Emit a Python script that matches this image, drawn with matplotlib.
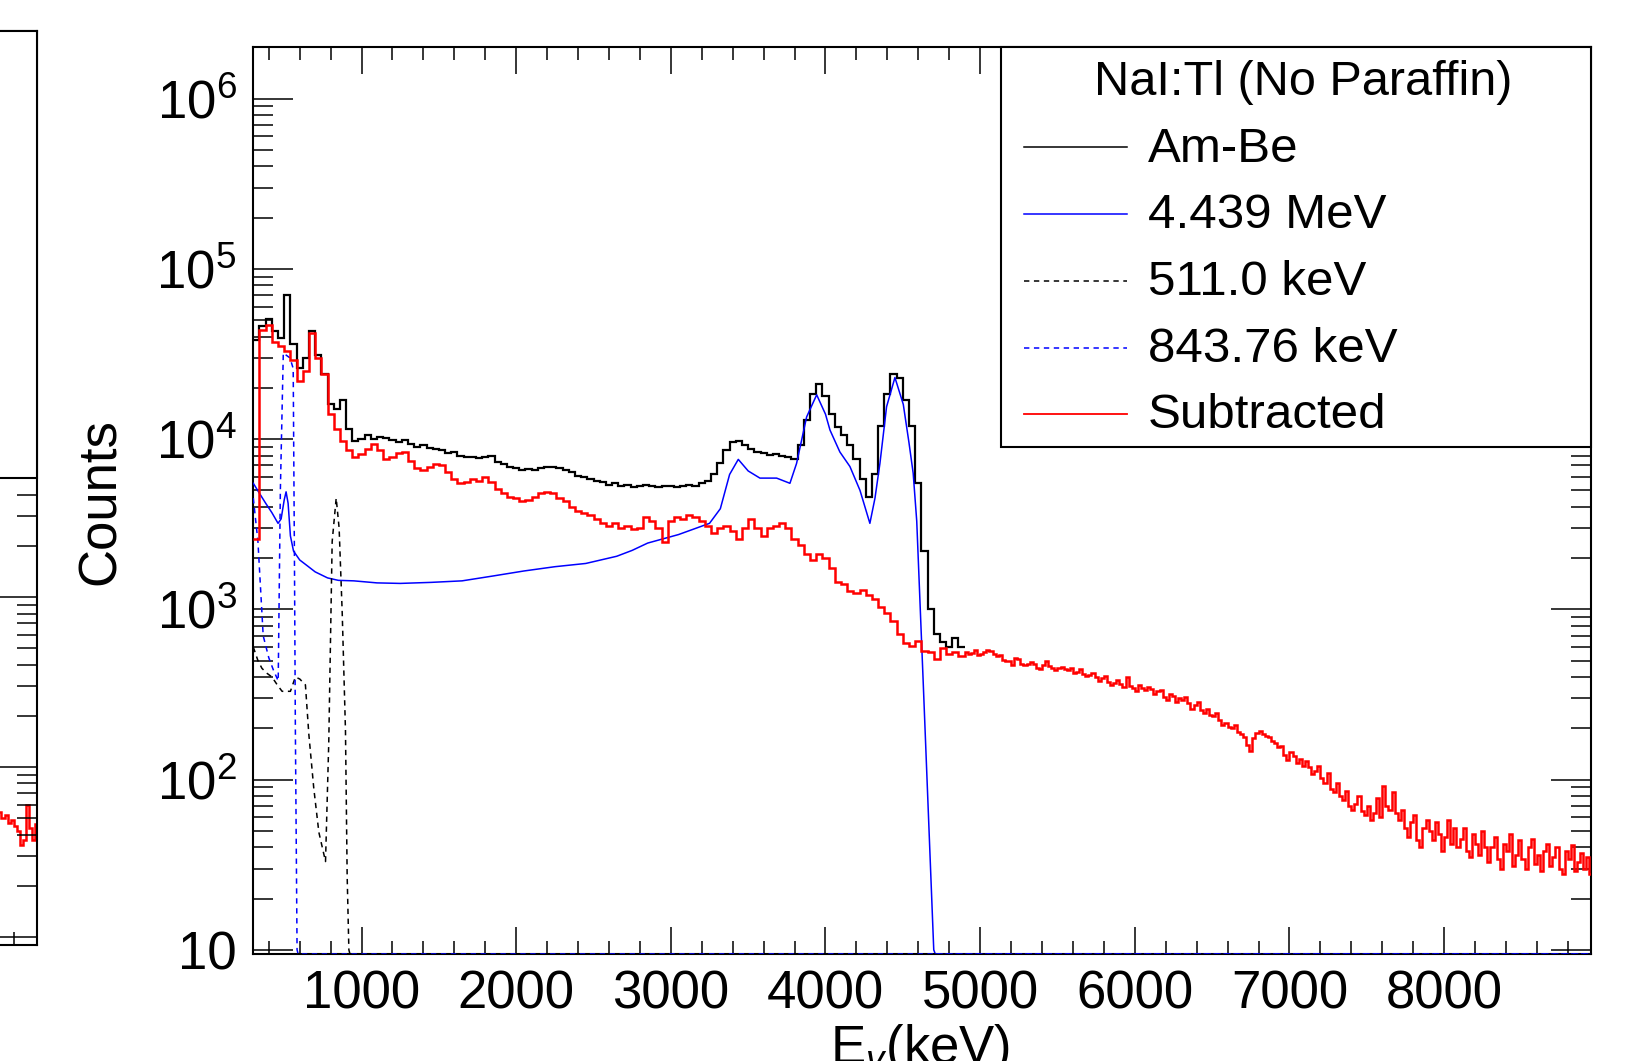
import numpy as np
import matplotlib
matplotlib.use("Agg")
import matplotlib.pyplot as plt
from matplotlib.patches import Rectangle
from matplotlib.lines import Line2D
from matplotlib.ticker import FixedLocator, MultipleLocator, LogLocator, FuncFormatter, NullFormatter

plt.rcParams['font.family'] = ['Liberation Sans', 'DejaVu Sans']
plt.rcParams['mathtext.fontset'] = 'custom'
plt.rcParams['mathtext.rm'] = 'Liberation Sans'
plt.rcParams['mathtext.it'] = 'Liberation Sans:italic'
plt.rcParams['mathtext.bf'] = 'Liberation Sans:bold'

# ---------------- data ----------------
BIN_WIDTH = 40          # keV per histogram bin (low-energy part)
AMBE_START = 300        # keV, first bin edge
ambe_counts = [
    3.8e4, 4.6e4, 5.1e4, 4.3e4, 3.9e4, 7.0e4, 3.6e4, 2.6e4, 3.0e4, 4.3e4,
    3.1e4, 2.4e4, 1.6e4, 1.5e4, 1.7e4, 1.15e4, 9.8e3, 1.0e4, 1.05e4, 1.0e4,
    1.03e4, 1.02e4, 9.9e3, 9.6e3, 9.9e3, 9.3e3, 9.0e3, 9.2e3, 8.9e3, 8.8e3,
    8.6e3, 8.3e3, 8.4e3, 8.0e3, 7.8e3, 7.9e3, 7.7e3, 7.9e3, 8.0e3, 7.3e3,
    7.1e3, 6.9e3, 6.8e3, 6.6e3, 6.7e3, 6.6e3, 6.8e3, 6.9e3, 6.9e3, 6.8e3,
    6.6e3, 6.4e3, 6.1e3, 6.0e3, 5.8e3, 5.7e3, 5.6e3, 5.4e3, 5.5e3, 5.3e3,
    5.4e3, 5.2e3, 5.3e3, 5.4e3, 5.3e3, 5.2e3, 5.3e3, 5.3e3, 5.2e3, 5.3e3,
    5.4e3, 5.3e3, 5.5e3, 5.7e3, 6.2e3, 7.2e3, 8.6e3, 9.6e3, 9.8e3, 9.2e3,
    8.7e3, 8.4e3, 8.3e3, 8.1e3, 8.2e3, 8.0e3, 7.9e3, 7.6e3, 9.2e3, 1.3e4,
    1.85e4, 2.1e4, 1.8e4, 1.4e4, 1.18e4, 1.05e4, 9.2e3, 7.6e3, 5.8e3, 4.6e3,
    6.2e3, 1.2e4, 1.85e4, 2.4e4, 2.3e4, 1.7e4, 1.2e4, 5.5e3, 2.2e3, 1.0e3,
    720, 640, 600, 680, 600,
]

SUB_START = 300
subtracted_low = [          # 300 - 4900 keV, 40 keV bins
    2.6e3, 4.4e4, 4.7e4, 3.7e4, 3.5e4, 3.3e4, 2.9e4, 2.2e4, 2.5e4, 4.2e4,
    3.0e4, 2.4e4, 1.4e4, 1.15e4, 9.8e3, 8.6e3, 7.8e3, 8.2e3, 8.8e3, 9.3e3,
    8.6e3, 7.6e3, 7.8e3, 8.3e3, 8.4e3, 7.4e3, 6.8e3, 6.6e3, 6.9e3, 7.1e3,
    7.0e3, 6.4e3, 5.8e3, 5.5e3, 5.6e3, 5.8e3, 5.7e3, 6.0e3, 5.6e3, 5.1e3,
    4.8e3, 4.6e3, 4.5e3, 4.3e3, 4.4e3, 4.6e3, 4.8e3, 4.9e3, 4.8e3, 4.5e3,
    4.3e3, 4.0e3, 3.8e3, 3.7e3, 3.6e3, 3.4e3, 3.2e3, 3.1e3, 3.2e3, 3.0e3,
    3.1e3, 2.95e3, 3.0e3, 3.5e3, 3.3e3, 3.0e3, 2.5e3, 3.3e3, 3.5e3, 3.4e3,
    3.6e3, 3.5e3, 3.3e3, 3.1e3, 2.8e3, 3.0e3, 3.1e3, 2.9e3, 2.6e3, 3.0e3,
    3.4e3, 3.0e3, 2.7e3, 3.0e3, 3.1e3, 3.2e3, 3.0e3, 2.6e3, 2.4e3, 2.1e3,
    1.95e3, 2.1e3, 2.0e3, 1.75e3, 1.45e3, 1.4e3, 1.28e3, 1.25e3, 1.3e3, 1.22e3,
    1.15e3, 1.03e3, 950, 850, 720, 630, 610, 650, 570, 560,
    510, 590, 550, 560, 530,
]
TAIL_BIN_WIDTH = 20     # keV per bin above 4900 keV
subtracted_tail = [         # 4900 - 8960 keV, 20 keV bins
    560, 550, 555, 575, 540, 545, 560, 580, 570, 550,
    535, 540, 505, 495, 500, 470, 520, 510, 480, 470,
    475, 490, 480, 455, 445, 470, 500, 465, 455, 440,
    450, 460, 445, 440, 455, 425, 430, 445, 415, 405,
    410, 420, 400, 380, 395, 405, 375, 360, 370, 385,
    365, 350, 400, 355, 345, 330, 360, 345, 335, 350,
    340, 320, 330, 335, 305, 295, 320, 310, 285, 300,
    295, 305, 280, 260, 275, 285, 255, 245, 260, 240,
    235, 245, 225, 210, 215, 205, 200, 210, 190, 185,
    178, 160, 148, 175, 188, 192, 185, 180, 178, 168,
    165, 155, 158, 140, 130, 145, 138, 125, 132, 120,
    128, 118, 108, 112, 120, 102, 96, 110, 88, 84,
    96, 80, 76, 86, 70, 66, 72, 80, 65, 62,
    70, 58, 64, 78, 60, 92, 70, 66, 85, 64,
    58, 66, 52, 46, 56, 62, 44, 40, 52, 58,
    50, 44, 56, 48, 38, 46, 58, 42, 52, 40,
    45, 52, 38, 35, 48, 42, 36, 50, 40, 33,
    40, 46, 34, 30, 42, 38, 48, 31, 36, 44,
    34, 30, 40, 45, 32, 36, 29, 38, 42, 31,
    35, 40, 30, 28, 38, 34, 41, 29, 33, 37,
    30, 35, 28,
]

# 4.439 MeV response (smooth curve)
g4439_energy = [300, 340, 380, 420, 460, 480, 500, 512, 525, 540, 560, 600, 650, 700,
                780, 850, 950, 1100, 1250, 1450, 1650, 1850, 2050, 2250, 2450, 2650,
                2750, 2850, 3050, 3250, 3320, 3380, 3436, 3500, 3576, 3684, 3770, 3813,
                3878, 3943, 4000, 4029, 4093, 4158, 4223, 4287, 4320, 4352, 4395, 4449,
                4503, 4540, 4567, 4590, 4632, 4700, 4710, 8950]
g4439_counts = [5.5e3, 4.8e3, 4.2e3, 3.7e3, 3.2e3, 3.4e3, 4.4e3, 4.9e3, 4.2e3, 2.7e3,
                2.2e3, 1.95e3, 1.8e3, 1.66e3, 1.53e3, 1.48e3, 1.47e3, 1.43e3, 1.42e3,
                1.44e3, 1.47e3, 1.57e3, 1.68e3, 1.78e3, 1.86e3, 2.05e3, 2.22e3, 2.45e3,
                2.75e3, 3.2e3, 3.9e3, 6.2e3, 7.6e3, 6.5e3, 5.9e3, 5.9e3, 5.5e3, 7.2e3,
                1.35e4, 1.82e4, 1.4e4, 1.13e4, 8.4e3, 6.9e3, 5.0e3, 3.2e3, 4.5e3, 7.2e3,
                1.55e4, 2.3e4, 1.6e4, 9.5e3, 6.3e3, 3.3e3, 370, 10, 0, 0]

# 511.0 keV response
g511_energy = [300, 330, 356, 390, 421, 455, 486, 540, 572, 600, 637, 659, 691, 724,
               767, 788, 810, 836, 855, 875, 896, 907, 918, 925, 8950]
g511_counts = [600, 500, 450, 420, 400, 360, 330, 330, 400, 390, 360, 185, 89, 49,
               33, 166, 2.5e3, 4.5e3, 3.0e3, 950, 195, 27, 10, 0, 0]

# 843.76 keV response
g844_energy = [300, 330, 364, 400, 430, 461, 475, 494, 537, 558, 566, 572, 583, 590, 8950]
g844_counts = [4.5e3, 2.5e3, 700, 520, 440, 380, 5.0e3, 3.2e4, 3.0e4, 2.6e4, 2.0e3, 200,
               10, 0, 0]

# partially visible neighbouring panel (subtracted spectrum tail)
LEFT_BIN_WIDTH = 20
LEFT_START = 8640
left_subtracted_counts = [55, 50, 56, 54, 50, 52, 47, 49, 45, 42, 35, 37, 60, 44, 37, 46]
left_zero_energy = [300, 8950]
left_zero_counts = [0, 0]

x_major_ticks = [1000, 2000, 3000, 4000, 5000, 6000, 7000, 8000]
legend_title = "NaI:Tl (No Paraffin)"
legend_labels = ["Am-Be", "4.439 MeV", "511.0 keV", "843.76 keV", "Subtracted"]

# ---------------- layout ----------------
W, H = 1639, 1061
XMIN, XMAX = 300, 8950
YMIN, YMAX = 9.45, 2.01e6

fig = plt.figure(figsize=(W / 100, H / 100), dpi=100)
ax = fig.add_axes([253.3 / W, 1 - 954 / H, (1591 - 253.3) / W, (954 - 47) / H])
axl = fig.add_axes([(37 - 1338) / W, 1 - 945 / H, 1338 / W, (945 - 31) / H])


def floor(v, ymin):
    v = np.asarray(v, dtype=float)
    return np.where(v > 0, v, ymin)


def style_axes(a, ymin, ymax, labels=True):
    a.set_xlim(XMIN, XMAX)
    a.set_yscale('log')
    a.set_ylim(ymin, ymax)
    for s in a.spines.values():
        s.set_linewidth(1.5)
    a.xaxis.set_major_locator(FixedLocator(x_major_ticks))
    a.xaxis.set_minor_locator(MultipleLocator(200))
    a.yaxis.set_major_locator(LogLocator(base=10, numticks=20))
    a.yaxis.set_minor_locator(LogLocator(base=10, subs=np.arange(2, 10), numticks=100))
    a.yaxis.set_minor_formatter(NullFormatter())
    a.tick_params(which='both', direction='in', top=True, right=True, width=1.1)
    a.tick_params(axis='x', which='major', length=19.5, labelsize=38, pad=11)
    a.tick_params(axis='x', which='minor', length=9.5)
    a.tick_params(axis='y', which='major', length=28.8, labelsize=38, pad=12)
    a.tick_params(axis='y', which='minor', length=14.4)
    if labels:
        a.yaxis.set_major_formatter(FuncFormatter(
            lambda v, p: '10' if abs(np.log10(v) - 1) < 1e-6
            else r'$\mathregular{10^{%d}}$' % int(round(np.log10(v)))))
    else:
        a.tick_params(labelleft=False, labelbottom=False)


style_axes(ax, YMIN, YMAX)
style_axes(axl, 8.97, 2.14e6, labels=False)

# ---------------- main panel ----------------
ambe_edges = AMBE_START + BIN_WIDTH * np.arange(len(ambe_counts) + 1)
low_edges = SUB_START + BIN_WIDTH * np.arange(len(subtracted_low) + 1)
tail_edges = low_edges[-1] + TAIL_BIN_WIDTH * np.arange(1, len(subtracted_tail) + 1)
sub_edges = np.concatenate([low_edges, tail_edges])
sub_counts = np.concatenate([subtracted_low, subtracted_tail])

ax.stairs(ambe_counts, ambe_edges, baseline=None, color='black', lw=1.6, zorder=2)
ax.plot(g4439_energy, floor(g4439_counts, YMIN), color='#0000ff', lw=1.1, zorder=3)
ax.plot(g511_energy, floor(g511_counts, YMIN), color='black', lw=1.1,
        ls=(0, (3.5, 3)), zorder=3)
ax.plot(g844_energy, floor(g844_counts, YMIN), color='#0000ff', lw=1.1,
        ls=(0, (3.5, 3)), zorder=3)
ax.stairs(sub_counts, sub_edges, baseline=None, color='#ff0000', lw=1.8, zorder=4)

ax.set_ylabel('Counts', fontsize=38, va='center', ha='center')
ax.yaxis.set_label_coords((101 - 253.3) / (1591 - 253.3), (954 - 502) / (954 - 47))
ax.set_xlabel(r'E$_{\gamma}$(keV)', fontsize=38, va='baseline', ha='center')
ax.xaxis.set_label_coords((920 - 253.3) / (1591 - 253.3), (954 - 1064) / (954 - 47))

# ---------------- left (cut-off) panel ----------------
left_edges = LEFT_START + LEFT_BIN_WIDTH * np.arange(len(left_subtracted_counts) + 1)
axl.stairs(left_subtracted_counts, left_edges, baseline=None, color='#ff0000', lw=1.8)
axl.plot(left_zero_energy, floor(left_zero_counts, 8.97), color='#0000ff', lw=1.1,
         ls=(0, (3.5, 3)))
axl.add_patch(Rectangle((0.5, (945 - 478) / (945 - 31)), 0.5, 1 - (945 - 478) / (945 - 31),
                        transform=axl.transAxes, facecolor='white', edgecolor='black',
                        lw=1.5, zorder=5, clip_on=False))

# ---------------- legend (ROOT-style box) ----------------
def fx(px):
    return px / W


def fy(py):
    return 1 - py / H


fig.add_artist(Rectangle((fx(1001), fy(447)), (1591 - 1001) / W, (447 - 47) / H,
                         transform=fig.transFigure, facecolor='white', edgecolor='black',
                         lw=1.5, zorder=5))
fig.text(fx(1303), fy(95), legend_title, ha='center', va='baseline', fontsize=35, zorder=6)

leg_styles = [dict(color='black', lw=1.1, ls='-'),
              dict(color='#0000ff', lw=1.1, ls='-'),
              dict(color='black', lw=1.1, ls=(0, (3.5, 3))),
              dict(color='#0000ff', lw=1.1, ls=(0, (3.5, 3))),
              dict(color='#ff0000', lw=1.3, ls='-')]
line_y = [147, 214, 281, 348, 414]
text_base = [161.7, 228, 295, 362, 428]
for lab, st, ly, tb in zip(legend_labels, leg_styles, line_y, text_base):
    fig.add_artist(Line2D([fx(1024), fx(1127)], [fy(ly), fy(ly)],
                          transform=fig.transFigure, zorder=6, **st))
    fig.text(fx(1148), fy(tb), lab, ha='left', va='baseline', fontsize=35.5, zorder=6)

fig.savefig('out.png', dpi=100)
